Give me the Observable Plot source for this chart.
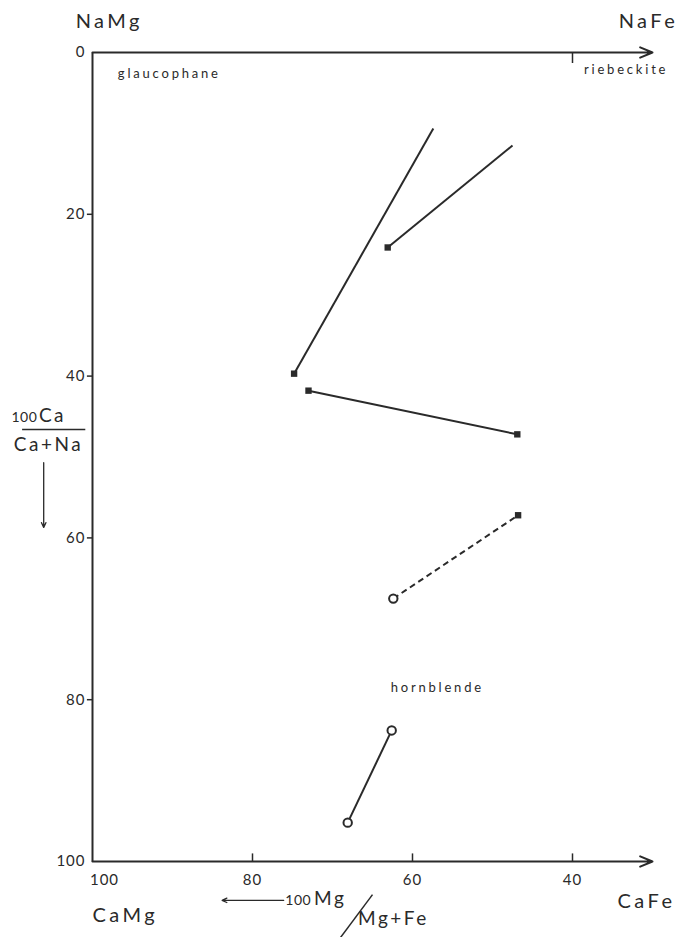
<!DOCTYPE html>
<html>
<head>
<meta charset="utf-8">
<script src="https://cdn.jsdelivr.net/npm/d3@7"></script>
<script src="https://cdn.jsdelivr.net/npm/@observablehq/plot@0.6"></script>
<style>
  html, body { margin: 0; padding: 0; background: #fff; }
  #chart svg g[font-size="20"] text { letter-spacing: 3.5px; }
  #chart svg g[font-size="19"] text { letter-spacing: 2.5px; }
  #chart svg g[font-size="13"] text { letter-spacing: 2.8px; }
  #chart svg g[font-size="15"] text { letter-spacing: 1px; }
  #chart svg g[font-size="14"] text { letter-spacing: 0.5px; }
</style>
</head>
<body>
<div id="chart"></div>
<script>
// ---- data (x = 100Mg/(Mg+Fe), y = 100Ca/(Ca+Na)) ----
const segStartX = [74.8, 63.1, 73.0, 62.4, 68.1];
const segStartY = [39.7, 24.1, 41.8, 67.5, 95.2];
const segEndX   = [57.4, 47.5, 46.9, 46.8, 62.6];
const segEndY   = [9.4, 11.5, 47.2, 57.2, 83.8];
const startMarker = ["square", "square", "square", "circle", "circle"];
const endMarker   = ["none", "none", "square", "square", "circle"];
const dashedSeg   = [false, false, false, true, false];

const xTicks = [80, 60, 40];
const xTickLabelValues = [100, 80, 60, 40];
const yTicks = [20, 40, 60, 80];
const yTickLabelValues = [0, 20, 40, 60, 80, 100];
const topTicks = [40];

const fieldNames = ["glaucophane", "riebeckite", "hornblende"];
const fieldX = [90.4, 33.3, 56.9];
const fieldY = [3.2, 2.6, 79.1];

const cornerNames = ["NaMg", "NaFe", "CaMg", "CaFe"];
const cornerX = [97.9, 30.5, 95.9, 30.75];
const cornerY = [-3.0, -3.0, 107.5, 105.8];

// ---- build tables ----
const segs = segStartX.map((_, i) => ({
  x1: segStartX[i], y1: segStartY[i], x2: segEndX[i], y2: segEndY[i], dashed: dashedSeg[i]
}));
const pts = [];
segs.forEach((s, i) => {
  pts.push({x: s.x1, y: s.y1, m: startMarker[i]});
  pts.push({x: s.x2, y: s.y2, m: endMarker[i]});
});
const fields = fieldNames.map((t, i) => ({t, x: fieldX[i], y: fieldY[i]}));
const corners = cornerNames.map((t, i) => ({t, x: cornerX[i], y: cornerY[i]}));
const xLab = xTickLabelValues.map(v => ({v, x: v === 100 ? 98.5 : v}));

const ink = "#2a2a2a";
const font = "Lato, 'DejaVu Sans', sans-serif";

const plot = Plot.plot({
  width: 682,
  height: 937,
  marginLeft: 92,
  marginRight: 30,
  marginTop: 52,
  marginBottom: 76,
  style: {background: "white", fontFamily: font},
  x: {domain: [100, 30], axis: null},
  y: {domain: [0, 100], reverse: true, axis: null},
  marks: [
    // axes
    Plot.link([{x1: 100, x2: 100, y1: 0, y2: 100}], {x1: "x1", x2: "x2", y1: "y1", y2: "y2", stroke: ink, strokeWidth: 2}),
    Plot.arrow([{x1: 100, x2: 30, y: 0}], {x1: "x1", x2: "x2", y1: "y", y2: "y", stroke: ink, strokeWidth: 2, headLength: 10, headAngle: 45}),
    Plot.arrow([{x1: 100, x2: 30, y: 100}], {x1: "x1", x2: "x2", y1: "y", y2: "y", stroke: ink, strokeWidth: 2, headLength: 10, headAngle: 45}),
    // ticks
    Plot.link(xTicks, {x1: d => d, x2: d => d, y1: () => 100, y2: () => 99, stroke: ink, strokeWidth: 1.5}),
    Plot.link(topTicks, {x1: d => d, x2: d => d, y1: () => 0, y2: () => 1.3, stroke: ink, strokeWidth: 1.5}),
    Plot.link(yTicks, {x1: () => 100, x2: () => 100.7, y1: d => d, y2: d => d, stroke: ink, strokeWidth: 1.5}),
    // tick labels
    Plot.text(xLab, {x: "x", y: () => 100, text: d => String(d.v), dy: 19, fontSize: 15, fill: ink}),
    Plot.text(yTickLabelValues, {x: () => 100, y: d => d, text: d => String(d), dx: -7, textAnchor: "end", fontSize: 15, fill: ink}),
    // segments
    Plot.link(segs.filter(d => !d.dashed), {x1: "x1", y1: "y1", x2: "x2", y2: "y2", stroke: ink, strokeWidth: 2}),
    Plot.link(segs.filter(d => d.dashed), {x1: "x1", y1: "y1", x2: "x2", y2: "y2", stroke: ink, strokeWidth: 2, strokeDasharray: "6,4"}),
    // markers
    Plot.dot(pts.filter(d => d.m === "square"), {x: "x", y: "y", symbol: "square", r: 3.6, fill: ink}),
    Plot.dot(pts.filter(d => d.m === "circle"), {x: "x", y: "y", r: 4.2, fill: "white", stroke: ink, strokeWidth: 2}),
    // field labels
    Plot.text(fields, {x: "x", y: "y", text: "t", fontSize: 13, lineAnchor: "bottom", fill: ink}),
    // corner labels
    Plot.text(corners, {x: "x", y: "y", text: "t", fontSize: 20, lineAnchor: "bottom", fill: ink}),
    // left axis title: 100Ca / Ca+Na and down arrow
    Plot.text([{x: 106.9, y: 45.7}], {x: "x", y: "y", text: () => "100", textAnchor: "end", lineAnchor: "bottom", fontSize: 14, fill: ink}),
    Plot.text([{x: 106.7, y: 45.7}], {x: "x", y: "y", text: () => "Ca", textAnchor: "start", lineAnchor: "bottom", fontSize: 19, fill: ink}),
    Plot.link([{x1: 108.8, x2: 100.9, y: 46.6}], {x1: "x1", x2: "x2", y1: "y", y2: "y", stroke: ink, strokeWidth: 1.5}),
    Plot.text([{x: 105.5, y: 49.3}], {x: "x", y: "y", text: () => "Ca+Na", lineAnchor: "bottom", fontSize: 19, fill: ink}),
    Plot.arrow([{x: 106.1, y1: 50.7, y2: 58.7}], {x1: "x", x2: "x", y1: "y1", y2: "y2", stroke: ink, strokeWidth: 1.3, headLength: 6, headAngle: 50}),
    // bottom axis title: <-- 100Mg / Mg+Fe
    Plot.arrow([{x1: 76.1, x2: 83.8, y: 104.8}], {x1: "x1", x2: "x2", y1: "y", y2: "y", stroke: ink, strokeWidth: 1.3, headLength: 6, headAngle: 50}),
    Plot.text([{x: 75.9, y: 105.4}], {x: "x", y: "y", text: () => "100", textAnchor: "start", lineAnchor: "bottom", fontSize: 14, fill: ink}),
    Plot.text([{x: 72.3, y: 105.4}], {x: "x", y: "y", text: () => "Mg", textAnchor: "start", lineAnchor: "bottom", fontSize: 19, fill: ink}),
    Plot.link([{x1: 65.0, y1: 104.1, x2: 69.0, y2: 109.4}], {x1: "x1", y1: "y1", x2: "x2", y2: "y2", stroke: ink, strokeWidth: 1.5}),
    Plot.text([{x: 66.8, y: 107.9}], {x: "x", y: "y", text: () => "Mg+Fe", textAnchor: "start", lineAnchor: "bottom", fontSize: 19, fill: ink})
  ]
});

document.getElementById("chart").appendChild(plot);
</script>
</body>
</html>
